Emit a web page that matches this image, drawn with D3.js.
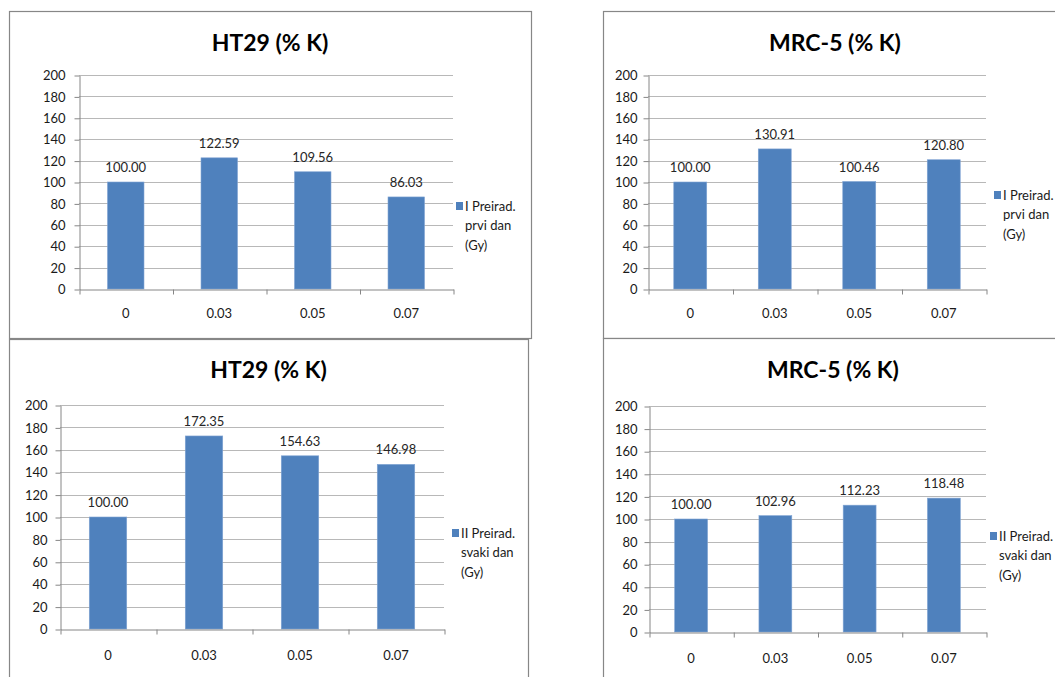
<!DOCTYPE html>
<html>
<head>
<meta charset="utf-8">
<script src="https://cdn.jsdelivr.net/npm/d3@7"></script>
<style>
  html, body { margin: 0; padding: 0; background: #ffffff; }
  svg { display: block; font-family: Lato, "Open Sans", sans-serif; }
</style>
</head>
<body>
<svg id="chart" width="1055" height="677"></svg>
<script>
// ---- data ----
const categories = ["0", "0.03", "0.05", "0.07"];
const yTicks = [0, 20, 40, 60, 80, 100, 120, 140, 160, 180, 200];
const ht29FirstDay = [100.00, 122.59, 109.56, 86.03];
const mrc5FirstDay = [100.00, 130.91, 100.46, 120.80];
const ht29EveryDay = [100.00, 172.35, 154.63, 146.98];
const mrc5EveryDay = [100.00, 102.96, 112.23, 118.48];
const titles = ["HT29 (% K)", "MRC-5 (% K)", "HT29 (% K)", "MRC-5 (% K)"];
const legendFirst = ["I Preirad.", "prvi dan", "(Gy)"];
const legendEvery = ["II Preirad.", "svaki dan", "(Gy)"];

// ---- layout (positions only) ----
const panels = [
  { values: ht29FirstDay, title: titles[0], legend: legendFirst,
    box: [9, 11, 531, 338], plot: [79, 75, 453, 289], titleY: 43,
    legendX: 456, legendY: 206, labelGap: 14, xLabelY: 318 },
  { values: mrc5FirstDay, title: titles[1], legend: legendFirst,
    box: [603, 11, 1070, 338], plot: [648, 75, 986, 289], titleY: 43, titleCx: 835,
    legendX: 994, legendY: 195, labelGap: 11, xLabelY: 318 },
  { values: ht29EveryDay, title: titles[2], legend: legendEvery,
    box: [9, 339, 528, 700], plot: [60, 405, 444, 629], titleY: 370,
    legendX: 452, legendY: 533, labelGap: 13, xLabelY: 660 },
  { values: mrc5EveryDay, title: titles[3], legend: legendEvery,
    box: [603, 338, 1070, 700], plot: [649, 406, 986, 632], titleY: 370, titleCx: 833,
    legendX: 990, legendY: 536, labelGap: 12, xLabelY: 663 }
];

const svg = d3.select("#chart");
const barColor = "#4f81bd";
const gridColor = "#b8b8b8";
const axisColor = "#868686";
const borderColor = "#878787";

panels.forEach(p => {
  const [bx0, by0, bx1, by1] = p.box;
  const [px0, py0, px1, py1] = p.plot;
  const g = svg.append("g");

  g.append("rect")
    .attr("x", bx0 + 0.5).attr("y", by0 + 0.5)
    .attr("width", bx1 - bx0).attr("height", by1 - by0)
    .attr("fill", "#fff").attr("stroke", borderColor).attr("stroke-width", 1.2);

  const x = d3.scaleBand().domain(categories).range([px0, px1])
    .paddingInner(0.61).paddingOuter(0.305);
  const step = x.step();
  const y = d3.scaleLinear().domain([0, 200]).range([py1, py0]);

  // gridlines
  g.append("g").selectAll("line").data(yTicks.filter(t => t > 0)).join("line")
    .attr("x1", px0).attr("x2", px1)
    .attr("y1", d => Math.round(y(d)) + 0.5).attr("y2", d => Math.round(y(d)) + 0.5)
    .attr("stroke", gridColor).attr("stroke-width", 1);

  // bars
  g.append("g").selectAll("rect").data(p.values).join("rect")
    .attr("x", (d, i) => x(categories[i]))
    .attr("width", x.bandwidth())
    .attr("y", d => y(d))
    .attr("height", d => y(0) - y(d))
    .attr("fill", barColor)
    .attr("stroke", "#7fa3d3").attr("stroke-width", 0.6);

  // data labels
  g.append("g").selectAll("text").data(p.values).join("text")
    .attr("x", (d, i) => x(categories[i]) + x.bandwidth() / 2)
    .attr("y", d => y(d) - 10)
    .attr("text-anchor", "middle")
    .attr("font-size", 13).attr("fill", "#262626")
    .text(d => d.toFixed(2));

  // y axis
  const yAxis = d3.axisLeft(y).tickValues(yTicks).tickSize(5).tickSizeOuter(0).tickPadding(p.labelGap - 5);
  const ya = g.append("g").attr("transform", `translate(${px0 + 0.5},0.5)`).call(yAxis);
  ya.select(".domain").attr("stroke", axisColor);
  ya.selectAll(".tick line").attr("stroke", axisColor);
  ya.selectAll(".tick text").attr("font-size", 13).attr("fill", "#1a1a1a")
    .attr("font-family", "Lato, 'Open Sans', sans-serif");

  // x axis with boundary ticks
  const xb = d3.scaleLinear().domain([0, categories.length]).range([px0, px1]);
  const xAxis = d3.axisBottom(xb).tickValues(d3.range(categories.length + 1))
    .tickSize(5).tickSizeOuter(0).tickFormat("");
  const xa = g.append("g").attr("transform", `translate(0.5,${Math.round(y(0)) + 0.5})`).call(xAxis);
  xa.select(".domain").attr("stroke", axisColor);
  xa.selectAll(".tick line").attr("stroke", axisColor);

  // x labels
  g.append("g").selectAll("text").data(categories).join("text")
    .attr("x", d => x(d) + x.bandwidth() / 2)
    .attr("y", p.xLabelY)
    .attr("text-anchor", "middle")
    .attr("font-size", 13).attr("fill", "#1a1a1a")
    .text(d => d);

  // title
  const cx = p.titleCx !== undefined ? p.titleCx : (bx0 + bx1) / 2;
  g.append("text")
    .attr("x", cx).attr("y", p.titleY + 8)
    .attr("text-anchor", "middle")
    .attr("font-size", 23).attr("font-weight", "bold").attr("fill", "#000")
    .text(p.title);

  // legend
  g.append("rect")
    .attr("x", p.legendX).attr("y", p.legendY - 4)
    .attr("width", 7).attr("height", 8)
    .attr("fill", barColor);
  g.append("g").selectAll("text").data(p.legend).join("text")
    .attr("x", p.legendX + 9)
    .attr("y", (d, i) => p.legendY + 4.5 + i * 19.5)
    .attr("font-size", 13).attr("fill", "#1a1a1a")
    .text(d => d);
});
</script>
</body>
</html>
